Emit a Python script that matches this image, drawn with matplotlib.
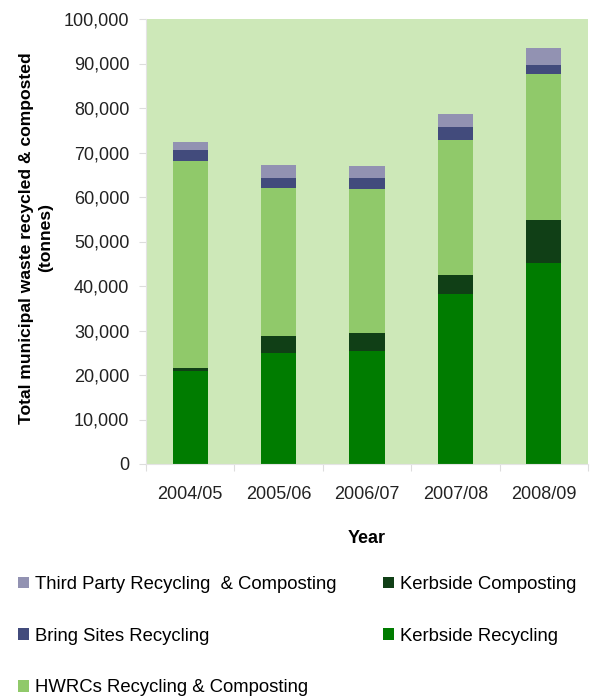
import matplotlib
matplotlib.use("Agg")
import matplotlib.pyplot as plt
from matplotlib.patches import Patch
from matplotlib.ticker import FuncFormatter
import numpy as np

plt.rcParams['font.family'] = ['Liberation Sans', 'DejaVu Sans']

years = ["2004/05", "2005/06", "2006/07", "2007/08", "2008/09"]
kerbside_recycling = [21000, 25000, 25400, 38300, 45200]
kerbside_composting = [500, 3800, 4100, 4100, 9700]
hwrc = [46600, 33300, 32300, 30500, 32700]
bring_sites = [2500, 2200, 2500, 2800, 2000]
third_party = [1700, 3000, 2700, 2900, 3800]

series = [
    ("Kerbside Recycling", kerbside_recycling, "#007C00"),
    ("Kerbside Composting", kerbside_composting, "#103F16"),
    ("HWRCs Recycling & Composting", hwrc, "#90C96A"),
    ("Bring Sites Recycling", bring_sites, "#424B7C"),
    ("Third Party Recycling  & Composting", third_party, "#9292B2"),
]

fig = plt.figure(figsize=(6.0, 6.96), dpi=100)
ax = fig.add_axes([146/600, 1-464/696, (588-146)/600, (464-19)/696])
ax.set_facecolor("#CDE8B8")

x = np.arange(len(years))
bottom = np.zeros(len(years))
handles = {}
for name, vals, col in series:
    v = np.array(vals, dtype=float)
    ax.bar(x, v, bottom=bottom, width=0.4, color=col, edgecolor="none", zorder=2)
    bottom += v
    handles[name] = Patch(facecolor=col, edgecolor="none")

ax.set_xlim(-0.5, len(years) - 0.5)
ax.set_ylim(0, 100000)
ax.set_yticks(np.arange(0, 100001, 10000))
ax.yaxis.set_major_formatter(FuncFormatter(lambda v, p: f"{int(v):,}"))
ax.set_xticks(x)
ax.set_xticklabels(years)
ax.set_xticks(np.arange(-0.5, len(years), 1.0), minor=True)
ax.tick_params(axis='x', which='major', length=0, pad=16, labelsize=13, colors="#222222")
ax.tick_params(axis='x', which='minor', length=5, color="#DDDDDD", width=0.8)
ax.tick_params(axis='y', length=5, color="#DDDDDD", width=0.8, pad=7, labelsize=13, labelcolor="#222222")
for s in ["top", "right"]:
    ax.spines[s].set_visible(False)
for s in ["left", "bottom"]:
    ax.spines[s].set_color("#E4E4E4")
    ax.spines[s].set_linewidth(0.8)

ax.set_xlabel("Year", fontsize=13, fontweight="bold", labelpad=19)
fig.text(36/600, 1-238/696, "Total municipal waste recycled & composted\n(tonnes)",
         rotation=90, ha="center", va="center", fontsize=12.6, fontweight="bold",
         linespacing=1.3)

left_names = ["Third Party Recycling  & Composting", "Bring Sites Recycling", "HWRCs Recycling & Composting"]
right_names = ["Kerbside Composting", "Kerbside Recycling"]
common = dict(frameon=False, loc="upper left", borderpad=0, borderaxespad=0,
              handlelength=0.6, handleheight=0.6, handletextpad=0.3,
              labelspacing=1.88, prop={"size": 13.3})
leg1 = fig.legend([handles[n] for n in left_names], left_names,
                  bbox_to_anchor=(18/600, 1-576/696), **common)
leg2 = fig.legend([handles[n] for n in right_names], right_names,
                  bbox_to_anchor=(383/600, 1-576/696), **common)

fig.savefig("out.png", dpi=100)
